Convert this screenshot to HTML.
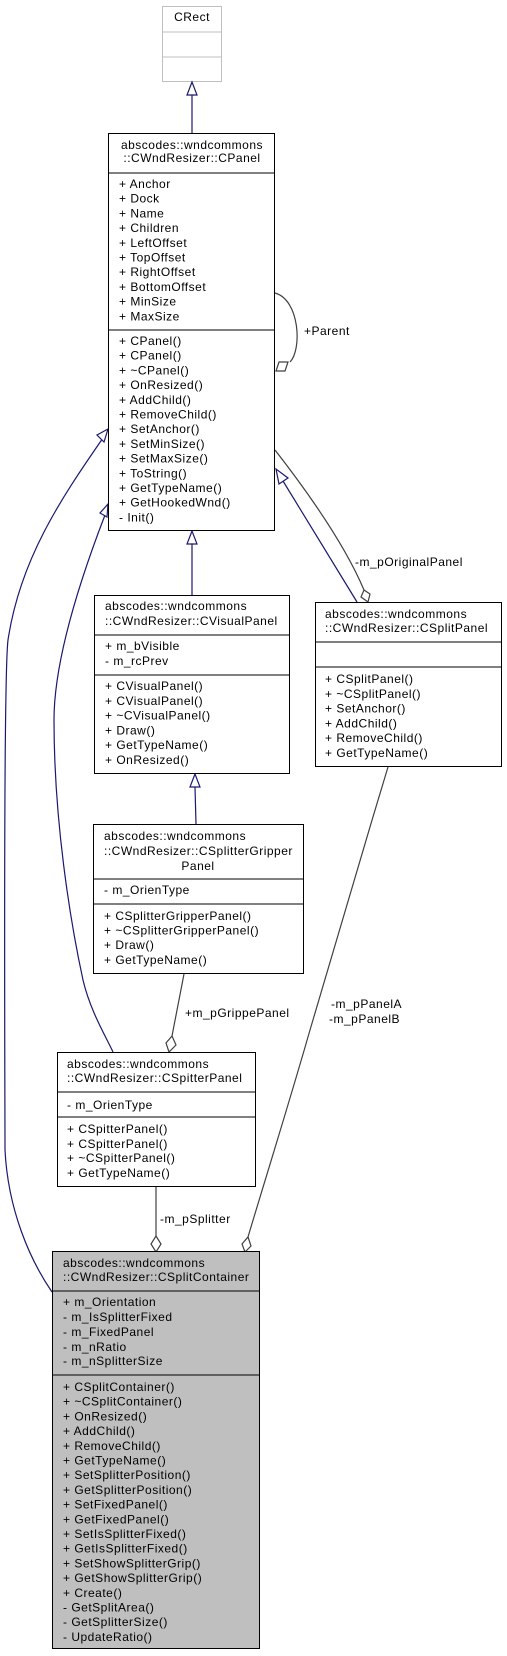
<!DOCTYPE html>
<html><head><meta charset="utf-8"><style>
html,body{margin:0;padding:0;background:#fff}
svg{display:block}
text{font-family:"Liberation Sans",sans-serif;font-size:12px;fill:#000;letter-spacing:0.5px}
</style></head><body>
<svg width="507" height="1656" viewBox="0 0 507 1656" xmlns="http://www.w3.org/2000/svg">
<!-- CRect -->
<rect x="162.5" y="6.5" width="59" height="75" fill="#fff" stroke="#bfbfbf"/>
<line x1="162" y1="32" x2="222" y2="32" stroke="#bfbfbf"/>
<line x1="162" y1="57" x2="222" y2="57" stroke="#bfbfbf"/>
<text x="192" y="21" text-anchor="middle">CRect</text>

<!-- edges -->
<g fill="none" stroke-width="1.2">
<line x1="192" y1="95" x2="192" y2="133" stroke="#191970"/>
<polygon points="192,82 187,95 197,95" fill="#fff" stroke="#191970"/>
<line x1="192" y1="544" x2="192" y2="595" stroke="#191970"/>
<polygon points="192,531 187,544 197,544" fill="#fff" stroke="#191970"/>
<line x1="195" y1="787" x2="196" y2="824" stroke="#191970"/>
<polygon points="195,774 190,787 200,787" fill="#fff" stroke="#191970"/>
<line x1="283" y1="481" x2="357" y2="602" stroke="#191970"/>
<polygon points="276,469 279,484 288,478" fill="#fff" stroke="#191970"/>
<path d="M103,438 C60,500 20,560 8,640 C3,680 5,1100 5,1150 C8,1210 30,1260 52,1292" stroke="#191970"/>
<polygon points="108,429 97,435 104,442" fill="#fff" stroke="#191970"/>
<path d="M105,515 C80,580 54,660 54,720 C54,820 70,920 83,980 C90,1010 105,1035 113,1052" stroke="#191970"/>
<polygon points="108,504 100,513 107,517" fill="#fff" stroke="#191970"/>
<path d="M275,293 C300,300 302,350 290,362" stroke="#404040"/>
<polygon points="276,371 279,362 288,362 285,371" fill="#fff" stroke="#404040"/>
<path d="M275,450 C310,495 345,545 364,590" stroke="#404040"/>
<polygon points="364,590 370,594 368,602 361,597" fill="#fff" stroke="#404040"/>
<line x1="184" y1="974" x2="172" y2="1036" stroke="#404040"/>
<polygon points="172,1036 176,1045 169,1052 166,1043" fill="#fff" stroke="#404040"/>
<line x1="156" y1="1187" x2="156" y2="1236" stroke="#404040"/>
<polygon points="156,1236 161,1244 156,1252 151,1244" fill="#fff" stroke="#404040"/>
<path d="M388,767 C360,860 330,960 310,1030 C290,1100 265,1180 248,1237" stroke="#404040"/>
<polygon points="248,1237 251,1246 245,1252 242,1244" fill="#fff" stroke="#404040"/>
</g>
<text x="304" y="335">+Parent</text>
<text x="355" y="566">-m_pOriginalPanel</text>
<text x="185" y="1017">+m_pGrippePanel</text>
<text x="331" y="1008">-m_pPanelA</text>
<text x="329" y="1023">-m_pPanelB</text>
<text x="160" y="1223">-m_pSplitter</text>

<!-- CPanel -->
<rect x="108.5" y="133.5" width="166" height="397" fill="#fff" stroke="#000"/>
<line x1="108" y1="173" x2="275" y2="173" stroke="#000"/>
<line x1="108" y1="330" x2="275" y2="330" stroke="#000"/>
<text x="192" y="149" text-anchor="middle">abscodes::wndcommons</text>
<text x="192" y="162" text-anchor="middle">::CWndResizer::CPanel</text>
<g>
<text x="119" y="188">+ Anchor</text><text x="119" y="202.7">+ Dock</text><text x="119" y="217.4">+ Name</text><text x="119" y="232.1">+ Children</text><text x="119" y="246.8">+ LeftOffset</text><text x="119" y="261.5">+ TopOffset</text><text x="119" y="276.2">+ RightOffset</text><text x="119" y="290.9">+ BottomOffset</text><text x="119" y="305.6">+ MinSize</text><text x="119" y="320.3">+ MaxSize</text>
<text x="119" y="345">+ CPanel()</text><text x="119" y="359.7">+ CPanel()</text><text x="119" y="374.4">+ ~CPanel()</text><text x="119" y="389.1">+ OnResized()</text><text x="119" y="403.8">+ AddChild()</text><text x="119" y="418.5">+ RemoveChild()</text><text x="119" y="433.2">+ SetAnchor()</text><text x="119" y="447.9">+ SetMinSize()</text><text x="119" y="462.6">+ SetMaxSize()</text><text x="119" y="477.3">+ ToString()</text><text x="119" y="492">+ GetTypeName()</text><text x="119" y="506.7">+ GetHookedWnd()</text><text x="119" y="521.4">- Init()</text>
</g>

<!-- CVisualPanel -->
<rect x="94.5" y="595.5" width="195" height="178" fill="#fff" stroke="#000"/>
<line x1="94" y1="635" x2="290" y2="635" stroke="#000"/>
<line x1="94" y1="675" x2="290" y2="675" stroke="#000"/>
<text x="105" y="610">abscodes::wndcommons</text>
<text x="105" y="625">::CWndResizer::CVisualPanel</text>
<text x="105" y="650">+ m_bVisible</text><text x="105" y="665">- m_rcPrev</text>
<text x="105" y="690">+ CVisualPanel()</text><text x="105" y="704.8">+ CVisualPanel()</text><text x="105" y="719.6">+ ~CVisualPanel()</text><text x="105" y="734.4">+ Draw()</text><text x="105" y="749.2">+ GetTypeName()</text><text x="105" y="764">+ OnResized()</text>

<!-- CSplitPanel -->
<rect x="315.5" y="602.5" width="186" height="164" fill="#fff" stroke="#000"/>
<line x1="315" y1="642" x2="502" y2="642" stroke="#000"/>
<line x1="315" y1="667" x2="502" y2="667" stroke="#000"/>
<text x="325" y="618">abscodes::wndcommons</text>
<text x="325" y="632">::CWndResizer::CSplitPanel</text>
<text x="325" y="683">+ CSplitPanel()</text><text x="325" y="697.8">+ ~CSplitPanel()</text><text x="325" y="712.6">+ SetAnchor()</text><text x="325" y="727.4">+ AddChild()</text><text x="325" y="742.2">+ RemoveChild()</text><text x="325" y="757">+ GetTypeName()</text>

<!-- Gripper -->
<rect x="93.5" y="824.5" width="210" height="149" fill="#fff" stroke="#000"/>
<line x1="93" y1="879" x2="304" y2="879" stroke="#000"/>
<line x1="93" y1="904" x2="304" y2="904" stroke="#000"/>
<text x="104" y="840">abscodes::wndcommons</text>
<text x="104" y="855">::CWndResizer::CSplitterGripper</text>
<text x="198" y="870" text-anchor="middle">Panel</text>
<text x="104" y="894">- m_OrienType</text>
<text x="104" y="920">+ CSplitterGripperPanel()</text><text x="104" y="934.5">+ ~CSplitterGripperPanel()</text><text x="104" y="949">+ Draw()</text><text x="104" y="964">+ GetTypeName()</text>

<!-- CSpitterPanel -->
<rect x="57.5" y="1052.5" width="198" height="134" fill="#fff" stroke="#000"/>
<line x1="57" y1="1092" x2="256" y2="1092" stroke="#000"/>
<line x1="57" y1="1117" x2="256" y2="1117" stroke="#000"/>
<text x="67" y="1068">abscodes::wndcommons</text>
<text x="67" y="1082">::CWndResizer::CSpitterPanel</text>
<text x="67" y="1109">- m_OrienType</text>
<text x="67" y="1133">+ CSpitterPanel()</text><text x="67" y="1148">+ CSpitterPanel()</text><text x="67" y="1162">+ ~CSpitterPanel()</text><text x="67" y="1177">+ GetTypeName()</text>

<!-- CSplitContainer -->
<rect x="52.5" y="1251.5" width="207" height="397" fill="#bfbfbf" stroke="#000"/>
<line x1="52" y1="1291" x2="260" y2="1291" stroke="#000"/>
<line x1="52" y1="1375" x2="260" y2="1375" stroke="#000"/>
<text x="63" y="1267">abscodes::wndcommons</text>
<text x="63" y="1281">::CWndResizer::CSplitContainer</text>
<text x="63" y="1306">+ m_Orientation</text><text x="63" y="1321">- m_IsSplitterFixed</text><text x="63" y="1336">- m_FixedPanel</text><text x="63" y="1351">- m_nRatio</text><text x="63" y="1365">- m_nSplitterSize</text>
<text x="63" y="1391">+ CSplitContainer()</text><text x="63" y="1405.7">+ ~CSplitContainer()</text><text x="63" y="1420.4">+ OnResized()</text><text x="63" y="1435.1">+ AddChild()</text><text x="63" y="1449.8">+ RemoveChild()</text><text x="63" y="1464.5">+ GetTypeName()</text><text x="63" y="1479.2">+ SetSplitterPosition()</text><text x="63" y="1493.9">+ GetSplitterPosition()</text><text x="63" y="1508.6">+ SetFixedPanel()</text><text x="63" y="1523.3">+ GetFixedPanel()</text><text x="63" y="1538">+ SetIsSplitterFixed()</text><text x="63" y="1552.7">+ GetIsSplitterFixed()</text><text x="63" y="1567.4">+ SetShowSplitterGrip()</text><text x="63" y="1582.1">+ GetShowSplitterGrip()</text><text x="63" y="1596.8">+ Create()</text><text x="63" y="1611.5">- GetSplitArea()</text><text x="63" y="1626.2">- GetSplitterSize()</text><text x="63" y="1640.9">- UpdateRatio()</text>
</svg>
</body></html>
